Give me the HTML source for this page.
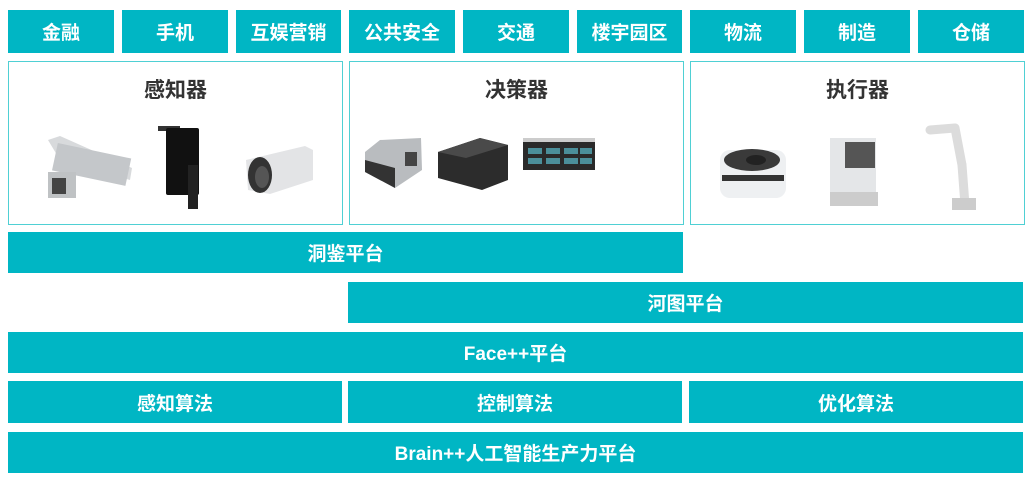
<!DOCTYPE html>
<html><head><meta charset="utf-8"><style>
body{margin:0;width:1035px;height:487px;background:#fff;position:relative;overflow:hidden;font-family:"Liberation Sans","Noto Sans CJK SC",sans-serif}
.b{position:absolute;background:#00b6c4;color:#fff;font-weight:bold;font-size:19px;display:flex;align-items:center;justify-content:center}
.p{position:absolute;border:1px solid #4fd0d4;box-sizing:border-box;background:#fff}
.t{position:absolute;top:12px;left:0;right:0;text-align:center;font-size:21px;font-weight:bold;color:#333}
svg{position:absolute;left:0;top:0}
</style></head><body>
<div class="b" style="left:8px;top:10px;width:106px;height:43px">金融</div>
<div class="b" style="left:122px;top:10px;width:106px;height:43px">手机</div>
<div class="b" style="left:236px;top:10px;width:105px;height:43px">互娱营销</div>
<div class="b" style="left:349px;top:10px;width:106px;height:43px">公共安全</div>
<div class="b" style="left:463px;top:10px;width:106px;height:43px">交通</div>
<div class="b" style="left:577px;top:10px;width:105px;height:43px">楼宇园区</div>
<div class="b" style="left:690px;top:10px;width:106px;height:43px">物流</div>
<div class="b" style="left:804px;top:10px;width:106px;height:43px">制造</div>
<div class="b" style="left:918px;top:10px;width:106px;height:43px">仓储</div>

<div class="p" style="left:8px;top:61px;width:335px;height:164px"><div class="t">感知器</div></div>
<div class="p" style="left:349px;top:61px;width:335px;height:164px"><div class="t">决策器</div></div>
<div class="p" style="left:690px;top:61px;width:335px;height:164px"><div class="t">执行器</div></div>

<svg width="1035" height="487">
<!-- camera 1 -->
<polygon points="48,140 60,136 132,168 130,180 60,160" fill="#d8dadc"/>
<rect x="55" y="150" width="75" height="28" fill="#c4c7ca" transform="rotate(12 90 160)"/>
<rect x="48" y="172" width="28" height="26" fill="#bfc2c4"/>
<rect x="52" y="178" width="14" height="16" fill="#444"/>
<!-- kiosk -->
<rect x="158" y="126" width="22" height="5" fill="#333"/>
<rect x="166" y="128" width="33" height="67" rx="2" fill="#111"/>
<rect x="188" y="165" width="10" height="44" fill="#222"/>
<!-- bullet camera -->
<polygon points="246,160 305,146 313,150 313,180 270,194 248,190" fill="#e3e4e6"/>
<ellipse cx="260" cy="175" rx="12" ry="18" fill="#333"/>
<ellipse cx="262" cy="177" rx="7" ry="11" fill="#555"/>
<!-- box pc -->
<polygon points="365,152 380,140 421,138 422,170 395,188 365,172" fill="#b9bcbf"/>
<polygon points="365,160 395,168 395,188 365,172" fill="#333"/>
<rect x="405" y="152" width="12" height="14" fill="#444"/>
<!-- black box -->
<polygon points="438,152 480,138 508,145 508,180 482,190 438,178" fill="#2c2c2c"/>
<polygon points="438,152 480,138 508,145 466,158" fill="#4a4a4a"/>
<!-- server -->
<rect x="523" y="140" width="72" height="30" fill="#2a2a2a"/>
<rect x="523" y="138" width="72" height="4" fill="#ccc"/>
<g fill="#4b8f9a"><rect x="528" y="148" width="14" height="6"/><rect x="546" y="148" width="14" height="6"/><rect x="564" y="148" width="14" height="6"/><rect x="528" y="158" width="14" height="6"/><rect x="546" y="158" width="14" height="6"/><rect x="564" y="158" width="14" height="6"/><rect x="580" y="148" width="12" height="6"/><rect x="580" y="158" width="12" height="6"/></g>
<!-- AGV -->
<rect x="720" y="150" width="66" height="48" rx="10" fill="#eef0f2"/>
<ellipse cx="752" cy="160" rx="28" ry="11" fill="#3a3a3a"/>
<ellipse cx="756" cy="160" rx="10" ry="5" fill="#222"/>
<rect x="722" y="175" width="62" height="6" fill="#333"/>
<!-- AGV 2 -->
<rect x="830" y="138" width="46" height="58" fill="#e4e6e8"/>
<rect x="845" y="142" width="30" height="26" fill="#555"/>
<rect x="830" y="192" width="48" height="14" fill="#ccc"/>
<!-- robot arm -->
<g stroke="#dcdcdc" stroke-width="9" stroke-linecap="round" fill="none"><line x1="965" y1="205" x2="962" y2="165"/><line x1="962" y1="165" x2="955" y2="128"/><line x1="955" y1="128" x2="930" y2="130"/></g>
<rect x="952" y="198" width="24" height="12" fill="#ccc"/>
</svg>

<div class="b" style="left:8px;top:232px;width:675px;height:41px">洞鉴平台</div>
<div class="b" style="left:348px;top:282px;width:675px;height:41px">河图平台</div>
<div class="b" style="left:8px;top:332px;width:1015px;height:41px">Face++平台</div>
<div class="b" style="left:8px;top:381px;width:334px;height:42px">感知算法</div>
<div class="b" style="left:348px;top:381px;width:334px;height:42px">控制算法</div>
<div class="b" style="left:689px;top:381px;width:334px;height:42px">优化算法</div>
<div class="b" style="left:8px;top:432px;width:1015px;height:41px">Brain++人工智能生产力平台</div>
</body></html>
